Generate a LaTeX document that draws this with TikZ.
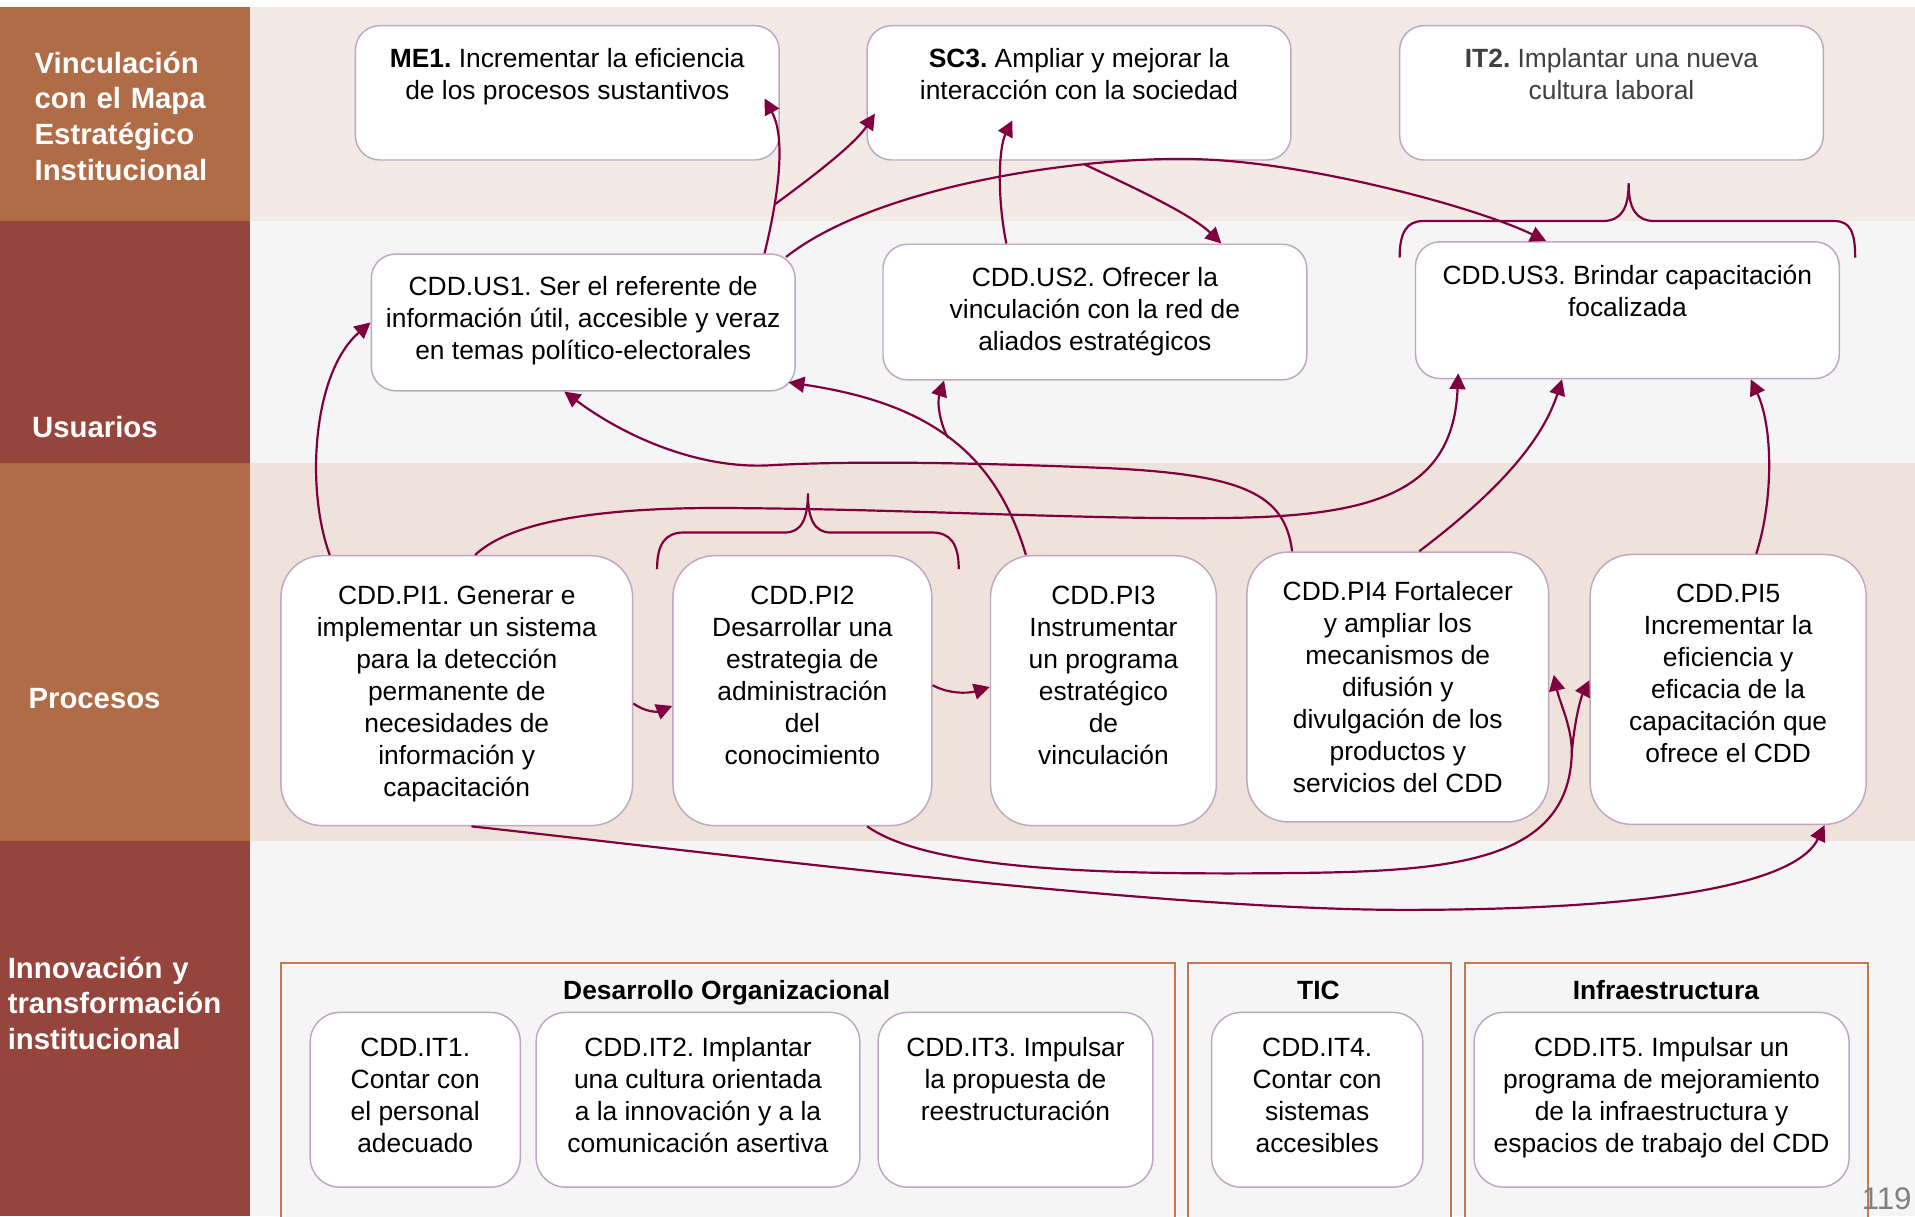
\documentclass[tikz,border=0pt]{standalone}
\usepackage{fontspec}
\setmainfont{Liberation Sans}
\usetikzlibrary{arrows.meta}
\frenchspacing

\definecolor{lanebrown}{HTML}{B06C46}
\definecolor{lanered}{HTML}{96453C}
\definecolor{paneltop}{HTML}{F3EAE6}
\definecolor{panelgray}{HTML}{F5F5F5}
\definecolor{panelproc}{HTML}{EFE2DA}
\definecolor{boxline}{HTML}{BFA7C4}
\definecolor{frameline}{HTML}{C47850}
\definecolor{linkcol}{HTML}{80003F}
\definecolor{softtext}{HTML}{404040}
\definecolor{pagegray}{HTML}{808080}

% box content: width, height, depth of first baseline, text (top aligned, centred)
\newcommand{\boxtxt}[4]{\parbox[c][#2][t]{#1}{\centering\rule{0pt}{#3}#4}}

\begin{document}
\begin{tikzpicture}[x=0.5pt,y=-0.5pt,
  obj/.style={draw=boxline, line width=0.6pt, fill=white, inner sep=0pt,
    rounded corners=10pt, font=\fontsize{10.8}{13.1}\selectfont},
  procbox/.style={obj, rounded corners=17pt},
  innobox/.style={obj, rounded corners=12pt},
  link/.style={draw=linkcol, line width=0.9pt, -{Triangle[length=6.5pt,width=6.5pt]}},
  bracket/.style={draw=linkcol, line width=0.9pt},
  lane/.style={font=\bfseries\fontsize{12}{14.6}\selectfont, text=white,
    align=left, text width=110pt, inner sep=0pt, anchor=base west},
  group/.style={draw=frameline, line width=0.8pt, fill=panelgray, inner sep=0pt,
    anchor=north west},
  grouptitle/.style={font=\bfseries\fontsize{10.8}{13}\selectfont, inner sep=0pt, anchor=base}
]
\useasboundingbox (0,0) rectangle (1568,996);
\clip (0,0) rectangle (1568,996);

% swim lanes
\fill[lanebrown] (0,6) rectangle (205,181);
\fill[paneltop] (205,6) rectangle (1568,181);
\fill[lanered] (0,181) rectangle (205,379);
\fill[panelgray] (205,181) rectangle (1568,379);
\fill[lanebrown] (0,379) rectangle (205,689);
\fill[panelproc] (205,379) rectangle (1568,689);
\fill[lanered] (0,689) rectangle (205,996);
\fill[panelgray] (205,689) rectangle (1568,996);

\node[lane] (lnvinc) at (28,60) {Vinculación\\con el Mapa\\Estratégico\\Institucional};
\node[lane] (lnusr) at (26,358) {Usuarios};
\node[lane] (lnproc) at (23,580) {Procesos};
\node[lane] (lninno) at (6,801) {Innovación y\\transformación\\institucional};

% strategic map
\node[obj] (me1) at (464.5,76) {\boxtxt{173.5pt}{55pt}{17pt}{\textbf{ME1.} Incrementar la eficiencia\\de los procesos sustantivos}};
\node[obj] (sc3) at (883.5,76) {\boxtxt{173.5pt}{55pt}{17pt}{\textbf{SC3.} Ampliar y mejorar la\\interacción con la sociedad}};
\node[obj, text=softtext] (it2) at (1319.5,76) {\boxtxt{173.5pt}{55pt}{17pt}{\textbf{IT2.} Implantar una nueva\\cultura laboral}};

% users
\node[obj] (us1) at (477.5,264) {\boxtxt{173.5pt}{56pt}{17.1pt}{CDD.US1. Ser el referente de\\información útil, accesible y veraz\\en temas político-electorales}};
\node[obj] (us2) at (896.5,255.5) {\boxtxt{173.5pt}{55.5pt}{17.1pt}{CDD.US2. Ofrecer la\\vinculación con la red de\\aliados estratégicos}};
\node[obj] (us3) at (1332.5,254) {\boxtxt{173.5pt}{56pt}{17.3pt}{CDD.US3. Brindar capacitación\\focalizada}};

% processes
\node[procbox] (pi1) at (374,565.5) {\boxtxt{144pt}{110.5pt}{19.8pt}{CDD.PI1. Generar e\\implementar un sistema\\para la detección\\permanente de\\necesidades de\\información y\\capacitación}};
\node[procbox] (pi2) at (657,565.5) {\boxtxt{106pt}{110.5pt}{19.8pt}{CDD.PI2\\Desarrollar una\\estrategia de\\administración\\del\\conocimiento}};
\node[procbox] (pi3) at (903.5,565.5) {\boxtxt{92.5pt}{110.5pt}{19.8pt}{CDD.PI3\\Instrumentar\\un programa\\estratégico\\de\\vinculación}};
\node[procbox] (pi4) at (1144.5,562.5) {\boxtxt{123.5pt}{110.5pt}{19.8pt}{CDD.PI4 Fortalecer\\y ampliar los\\mecanismos de\\difusión y\\divulgación de los\\productos y\\servicios del CDD}};
\node[procbox] (pi5) at (1415,564.5) {\boxtxt{113pt}{110.5pt}{19.8pt}{CDD.PI5\\Incrementar la\\eficiencia y\\eficacia de la\\capacitación que\\ofrece el CDD}};

% innovation groups
\node[group, minimum width=366pt, minimum height=115pt] (gdo) at (229,788) {};
\node[group, minimum width=107.5pt, minimum height=115pt] (gtic) at (972,788) {};
\node[group, minimum width=165pt, minimum height=115pt] (ginf) at (1199,788) {};
\node[grouptitle] (tdo) at (595,818) {Desarrollo Organizacional};
\node[grouptitle] (ttic) at (1079.5,818) {TIC};
\node[grouptitle] (tinf) at (1364,818) {Infraestructura};

\node[innobox] (it1) at (340,900.5) {\boxtxt{86pt}{71.5pt}{18.2pt}{CDD.IT1.\\Contar con\\el personal\\adecuado}};
\node[innobox] (itb) at (571.5,900.5) {\boxtxt{132.5pt}{71.5pt}{18.2pt}{CDD.IT2. Implantar\\una cultura orientada\\a la innovación y a la\\comunicación asertiva}};
\node[innobox] (it3) at (831.5,900.5) {\boxtxt{112.5pt}{71.5pt}{18.2pt}{CDD.IT3. Impulsar\\la propuesta de\\reestructuración}};
\node[innobox] (it4) at (1078.5,900.5) {\boxtxt{86.5pt}{71.5pt}{18.2pt}{CDD.IT4.\\Contar con\\sistemas\\accesibles}};
\node[innobox] (it5) at (1360.5,900.5) {\boxtxt{153.5pt}{71.5pt}{18.2pt}{CDD.IT5. Impulsar un\\programa de mejoramiento\\de la infraestructura y\\espacios de trabajo del CDD}};

\node[anchor=base west, inner sep=0pt, text=pagegray, font=\fontsize{12.8}{15}\selectfont] (pgno) at (1524,990) {119};

% braces
\draw[bracket] (538,466) .. controls (538,445) and (545,436) .. (560,436) -- (643,436)
  .. controls (656,436) and (661.5,425) .. (661.5,404)
  .. controls (661.5,425) and (667,436) .. (680,436) -- (763,436)
  .. controls (778,436) and (785,445) .. (785,466);
\draw[bracket] (1146,211) .. controls (1146,190) and (1152,181) .. (1165,181) -- (1312,181)
  .. controls (1328,181) and (1333.5,170) .. (1333.5,150)
  .. controls (1333.5,170) and (1339,181) .. (1355,181) -- (1502,181)
  .. controls (1515,181) and (1519,190) .. (1519,211);

% users towards the strategic map
\draw[link] ([xshift=74.25pt]us1.north) .. controls (640,150) and (642,110) .. ([xshift=80.75pt,yshift=25.5pt]me1.south) coordinate[pos=0.25] (j1);
\draw[link] (j1) .. controls (665,145) and (700,118) .. ([xshift=3.5pt,yshift=-8.5pt]sc3.west);
\draw[link] ([xshift=-4pt,yshift=-1.5pt]us1.north east) .. controls (720,150) and (900,125) .. (995,131) coordinate[pos=0.69] (j3)
  .. controls (1080,136) and (1207,169) .. ([xshift=-33.25pt]us3.north);
\draw[link] (j3) .. controls (925,152) and (975,175) .. ([xshift=51.75pt]us2.north);
\draw[link] ([xshift=-36.25pt]us2.north) .. controls (816,160) and (818,120) .. ([xshift=-27.25pt,yshift=16.5pt]sc3.south);

% processes towards users
\draw[link] ([xshift=-52pt]pi1.north) .. controls (250,400) and (256,305) .. (us1.west);
\draw[link] ([xshift=7.5pt]pi1.north) .. controls (420,425) and (500,415) .. (600,416)
  .. controls (750,417) and (900,426) .. (1010,424)
  .. controls (1130,422) and (1190,400) .. ([xshift=-69.25pt,yshift=2.5pt]us3.south);
\draw[link] ([xshift=-31.75pt]pi3.north) .. controls (815,370) and (760,330) .. ([xshift=-3pt,yshift=3.75pt]us1.south east) coordinate[pos=0.5] (j9);
\draw[link] (j9) .. controls (770,348) and (767,330) .. ([xshift=-61.75pt]us2.south);
\draw[link] ([xshift=-43.25pt]pi4.north) .. controls (1052,405) and (1020,388) .. (900,383)
  .. controls (800,379) and (700,377) .. (630,381)
  .. controls (575,384) and (515,360) .. ([xshift=-7.75pt]us1.south);
\draw[link] ([xshift=8.75pt]pi4.north) .. controls (1210,415) and (1260,370) .. ([xshift=-26.75pt]us3.south);
\draw[link] ([xshift=11.5pt]pi5.north) .. controls (1452,410) and (1452,350) .. ([xshift=50.5pt]us3.south);

% links between processes
\draw[link] ([yshift=-5.25pt]pi1.east) .. controls (528,583) and (538,583) .. ([yshift=-6.25pt]pi2.west);
\draw[link] ([yshift=2.25pt]pi2.east) .. controls (776,568) and (792,568) .. ([yshift=1.5pt]pi3.west);
\draw[link] ([xshift=26.5pt]pi2.south) .. controls (760,712) and (900,716) .. (1040,715)
  .. controls (1180,714) and (1285,710) .. (1287,616) coordinate (j16)
  .. controls (1287,595) and (1277,575) .. ([xshift=1.8pt,yshift=5pt]pi4.east);
\draw[link] (j16) .. controls (1289,592) and (1294,572) .. ([yshift=3.75pt]pi5.west);
\draw[link] ([xshift=6pt]pi1.south) .. controls (600,700) and (950,745) .. (1150,745)
  .. controls (1350,745) and (1470,725) .. ([xshift=39.5pt]pi5.south);
\end{tikzpicture}
\end{document}
